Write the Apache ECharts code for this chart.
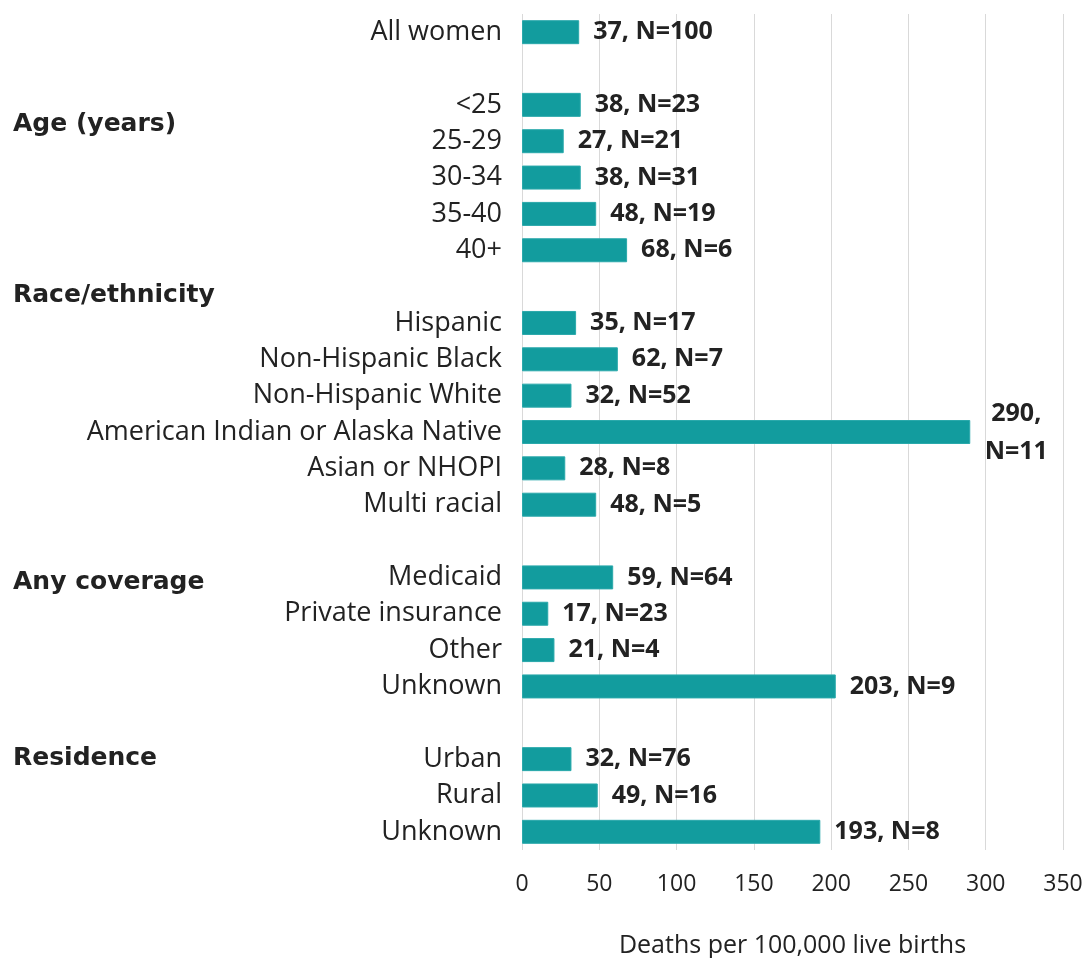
<!DOCTYPE html>
<html><head><meta charset="utf-8">
<script src="https://cdn.jsdelivr.net/npm/echarts@6/dist/echarts.min.js"></script>
<style>html,body{margin:0;padding:0;background:#fff}#c{width:1086px;height:958px}</style>
</head><body><div id="c"></div>
<script>
const categories = ['All women','','<25','25-29','30-34','35-40','40+','','Hispanic','Non-Hispanic Black','Non-Hispanic White','American Indian or Alaska Native','Asian or NHOPI','Multi racial','','Medicaid','Private insurance','Other','Unknown','','Urban','Rural','Unknown'];
const rates = [37,null,38,27,38,48,68,null,35,62,32,290,28,48,null,59,17,21,203,null,32,49,193];
const counts = [100,null,23,21,31,19,6,null,17,7,52,11,8,5,null,64,23,4,9,null,76,16,8];
const xTicks = [0,50,100,150,200,250,300,350];
const groupHeaders = [['Age (years)',124],['Race/ethnicity',295],['Any coverage',582],['Residence',758]];
const wrapIndex = 11;

const chart = echarts.init(document.getElementById('c'));
const txt = '#222222';
const data = rates.map((v,i)=>{
  if (v === null) return '-';
  const item = {value: v};
  if (i === wrapIndex) {
    item.label = {formatter: v + ',\nN=' + counts[i], align:'center', offset:[32,1], lineHeight:38};
  }
  return item;
});
chart.setOption({
  animation:false,
  grid:{left:522, right:23, top:14, bottom:108, containLabel:false, outerBoundsMode:'none'},
  xAxis:{type:'value', min:xTicks[0], max:xTicks[xTicks.length-1], interval:xTicks[1]-xTicks[0],
    axisLine:{show:false}, axisTick:{show:false},
    splitLine:{lineStyle:{color:'#d9d9d9', width:1}},
    axisLabel:{color:txt, fontSize:23, fontFamily:'Open Sans', margin:23},
    name:'Deaths per 100,000 live births', nameLocation:'middle', nameGap:83,
    nameTextStyle:{color:txt, fontSize:25, fontFamily:'Open Sans'}
  },
  yAxis:{type:'category', data:categories, inverse:true,
    axisLine:{show:false}, axisTick:{show:false},
    axisLabel:{color:txt, fontSize:27, fontFamily:'Open Sans', margin:20, padding:[3,0,0,0]}
  },
  series:[{type:'bar', data:data, barWidth:24,
    itemStyle:{color:'#129c9e', borderColor:'#2aa9ab', borderWidth:1},
    label:{show:true, position:'right', distance:14, color:txt, fontSize:25, fontWeight:'bold', fontFamily:'Open Sans', padding:[2,0,0,0],
      formatter:p=> p.value + ', N=' + counts[p.dataIndex]}
  }],
  graphic: groupHeaders.map(h=>({type:'text', x:13, y:h[1],
    style:{text:h[0], fill:txt, font:'bold 25px "DejaVu Sans"', verticalAlign:'middle'}}))
});
</script></body></html>
